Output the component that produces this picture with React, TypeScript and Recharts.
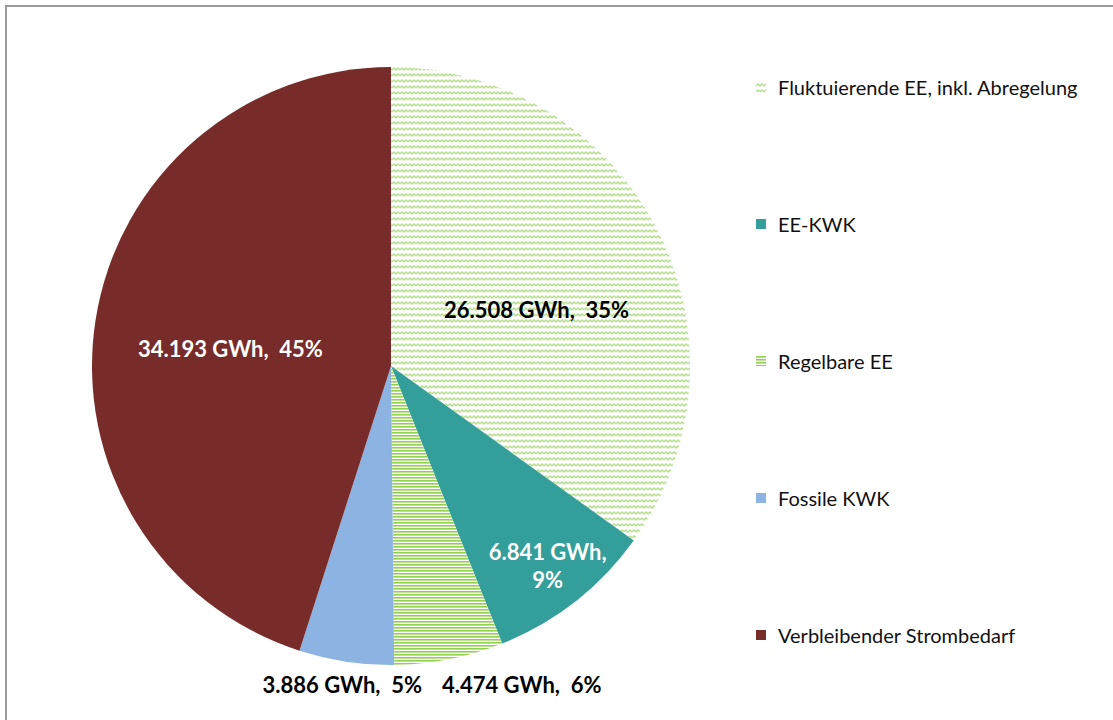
import React from 'react'
import { PieChart, Pie, Cell, Legend } from 'recharts'

const categories = [
  'Fluktuierende EE, inkl. Abregelung',
  'EE-KWK',
  'Regelbare EE',
  'Fossile KWK',
  'Verbleibender Strombedarf',
]
const energyGWh = [26508, 6841, 4474, 3886, 34193]
const shareLabels = ['35%', '9%', '6%', '5%', '45%']
const valueLabels = ['26.508 GWh', '6.841 GWh', '4.474 GWh', '3.886 GWh', '34.193 GWh']

const fills = ['url(#zigzag)', '#339e9a', 'url(#hlines)', '#8db3e2', '#772c2a']
const labelColors = ['#000', '#fff', '#000', '#000', '#fff']

const data = categories.map((name, i) => ({ name, value: energyGWh[i] }))

const FONT = 'Lato, "Open Sans", sans-serif'
const RAD = Math.PI / 180

const renderLabel = (props: any) => {
  const { cx, cy, midAngle, outerRadius, index } = props
  const fill = labelColors[index]
  const style = { fontFamily: FONT, fontWeight: 700, fontSize: 22 }
  if (index === 1) {
    // two-line label inside teal slice
    const r = outerRadius * 0.85
    const x = cx + r * Math.cos(-midAngle * RAD)
    const y = cy + r * Math.sin(-midAngle * RAD)
    return (
      <text x={x} y={y} fill={fill} textAnchor="middle" style={style}>
        <tspan x={x} dy={-6}>{valueLabels[index] + ','}</tspan>
        <tspan x={x} dy={28}>{shareLabels[index]}</tspan>
      </text>
    )
  }
  if (index === 2 || index === 3) {
    // small slices at the bottom: labels under the pie
    const y = cy + outerRadius + 28
    const x = index === 2 ? cx + 51 : cx + 31
    return (
      <text x={x} y={y} fill={fill} textAnchor={index === 2 ? 'start' : 'end'} style={style} xmlSpace="preserve">
        {valueLabels[index] + ',  ' + shareLabels[index]}
      </text>
    )
  }
  const r = outerRadius * 0.54
  const ang = index === 0 ? midAngle - 7 : midAngle + 3
  const x = cx + r * Math.cos(-ang * RAD) - (index === 0 ? 6 : 0)
  const y = cy + r * Math.sin(-ang * RAD)
  return (
    <text x={x} y={y + 8} fill={fill} textAnchor="middle" style={style} xmlSpace="preserve">
      {valueLabels[index] + ',  ' + shareLabels[index]}
    </text>
  )
}

const LegendIcon = ({ i }: { i: number }) => (
  <svg width={10} height={10} style={{ marginRight: 12, flexShrink: 0 }}>
    <rect width={10} height={10} fill={fills[i]} />
  </svg>
)

const renderLegend = () => (
  <div style={{ fontFamily: FONT, fontSize: 20, color: '#111' }}>
    {categories.map((c, i) => (
      <div key={c} style={{ display: 'flex', alignItems: 'center', height: 137 }}>
        <LegendIcon i={i} />
        <span>{c}</span>
      </div>
    ))}
  </div>
)

const App = () => {
  return (
    <div style={{ position: 'absolute', left: 0, top: 0, width: 1113, height: 720, overflow: 'hidden', background: '#fff' }}>
      <div style={{ position: 'absolute', left: 5, top: 5, width: 1200, height: 800, border: '2px solid #9a9a9a' }} />
      <div style={{ position: 'absolute', left: 0, top: 0 }}>
        <PieChart width={1113} height={720} margin={{ top: 0, right: 0, bottom: 0, left: 0 }}>
          <defs>
            <pattern id="zigzag" width={8} height={6} patternUnits="userSpaceOnUse">
              <rect width={8} height={6} fill="#fff" />
              <polyline points="0,4 2,2 4,4 6,2 8,4" fill="none" stroke="#b3de86" strokeWidth={1.3} />
            </pattern>
            <pattern id="hlines" width={4} height={3} patternUnits="userSpaceOnUse">
              <rect width={4} height={3} fill="#fff" />
              <rect y={0} width={4} height={1.6} fill="#92d050" />
            </pattern>
          </defs>
          <Pie
            data={data}
            dataKey="value"
            nameKey="name"
            cx={391}
            cy={366}
            outerRadius={299}
            startAngle={90}
            endAngle={-270}
            stroke="none"
            label={renderLabel}
            labelLine={false}
            isAnimationActive={false}
          >
            {data.map((d, i) => (
              <Cell key={d.name} fill={fills[i]} />
            ))}
          </Pie>
          <Legend
            layout="vertical"
            verticalAlign="top"
            align="right"
            content={renderLegend}
            wrapperStyle={{ left: 756, top: 18, width: 350 }}
          />
        </PieChart>
      </div>
    </div>
  )
}

export default App
